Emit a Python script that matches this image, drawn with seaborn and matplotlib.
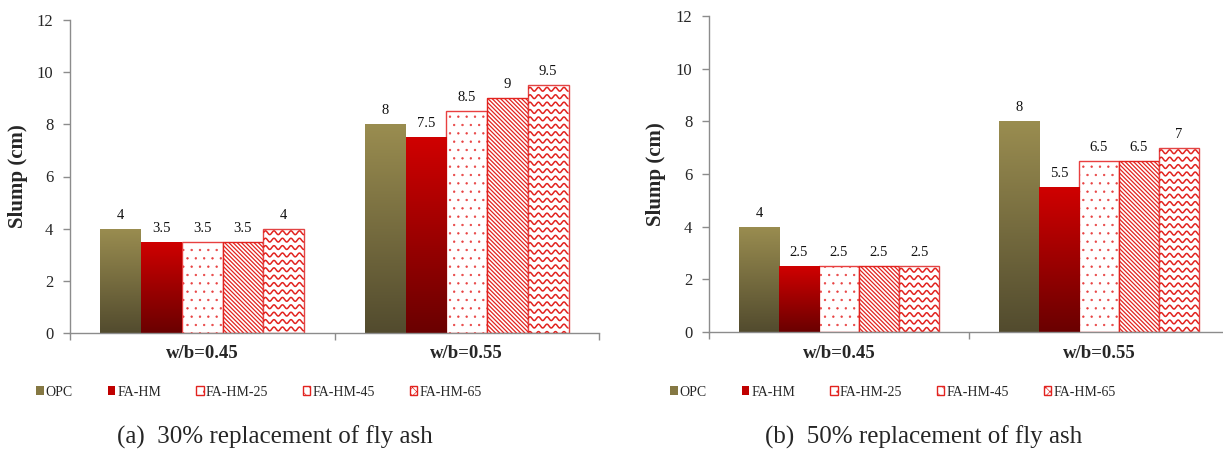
import numpy as np
import pandas as pd
import matplotlib
matplotlib.use("Agg")
import matplotlib.pyplot as plt
import seaborn as sns
from matplotlib.patches import Patch
from matplotlib.colors import LinearSegmentedColormap

# ---- data -------------------------------------------------------------
groups = ["w/b=0.45", "w/b=0.55"]
mixes = ["OPC", "FA-HM", "FA-HM-25", "FA-HM-45", "FA-HM-65"]

# slump (cm) per mix, 30 % fly ash replacement
slump30_wb045 = [4, 3.5, 3.5, 3.5, 4]
slump30_wb055 = [8, 7.5, 8.5, 9, 9.5]
# slump (cm) per mix, 50 % fly ash replacement
slump50_wb045 = [4, 2.5, 2.5, 2.5, 2.5]
slump50_wb055 = [8, 5.5, 6.5, 6.5, 7]

yticks = [0, 2, 4, 6, 8, 10, 12]
captions = ["(a)  30% replacement of fly ash", "(b)  50% replacement of fly ash"]


def to_frame(a, b):
    rows = []
    for g, vals in zip(groups, [a, b]):
        for m, v in zip(mixes, vals):
            rows.append({"group": g, "mix": m, "slump": v})
    return pd.DataFrame(rows)


# ---- style ------------------------------------------------------------
sns.set_style("white")
plt.rcParams["font.family"] = ["Liberation Serif", "DejaVu Serif"]
plt.rcParams["hatch.linewidth"] = 0.45

RED = "#e2231f"
DOT_RED = "#e84040"
WAVE_RED = "#e24444"
GREY = "#8c8c8c"
opc_cmap = LinearSegmentedColormap.from_list("opc", ["#524b2e", "#9a8d50"])
fahm_cmap = LinearSegmentedColormap.from_list("fahm", ["#6a0000", "#d00000"])
palette = {"OPC": "#8b7e45", "FA-HM": "#c00000", "FA-HM-25": "white",
           "FA-HM-45": "white", "FA-HM-65": "white"}


def pixel_units(ax):
    bb = ax.get_window_extent()
    x_lo, x_hi = ax.get_xlim()
    y_lo, y_hi = ax.get_ylim()
    return (x_hi - x_lo) / bb.width, (y_hi - y_lo) / bb.height


def gradient_bar(ax, bar, cmap):
    x0, w, h = bar.get_x(), bar.get_width(), bar.get_height()
    grad = np.linspace(0, 1, 256).reshape(-1, 1)
    im = ax.imshow(grad, extent=[x0, x0 + w, 0, h], origin="lower",
                   aspect="auto", cmap=cmap, zorder=bar.get_zorder())
    im.set_clip_path(bar)
    bar.set_facecolor("none")
    bar.set_edgecolor("none")


def diagonal_bar(ax, bar, color, step_px=4.2):
    # "\" hatch built from the bar's own geometry, spaced in pixels
    ux, uy = pixel_units(ax)
    x0, w, h = bar.get_x(), bar.get_width(), bar.get_height()
    w_px, h_px = w / ux, h / uy
    c = 0.0
    while c < w_px + h_px:
        px = np.array([c - h_px, c])
        py = np.array([h_px, 0.0])
        ln, = ax.plot(x0 + px * ux, py * uy, color=color, lw=0.9,
                      zorder=bar.get_zorder() + 0.1)
        ln.set_clip_path(bar)
        c += step_px


def wave_bar(ax, bar, color):
    # wavy hatch built from the bar's own geometry, sized in pixels
    ux, uy = pixel_units(ax)
    period, spacing, amp = 8.5 * ux, 7.4 * uy, 1.9 * uy
    x0, w, h = bar.get_x(), bar.get_width(), bar.get_height()
    xs = np.linspace(x0, x0 + w, 300)
    row = h - spacing * 0.55
    while row > -spacing:
        ys = row + amp * np.sin(2 * np.pi * (xs - x0) / period)
        ln, = ax.plot(xs, ys, color=color, lw=1.1, zorder=bar.get_zorder() + 0.1,
                      solid_capstyle="butt")
        ln.set_clip_path(bar)
        row -= spacing


def draw_panel(ax, df, ylabel_x):
    sns.barplot(data=df, x="group", y="slump", hue="mix", order=groups,
                hue_order=mixes, palette=palette, width=0.77, saturation=1,
                errorbar=None, legend=False, ax=ax)
    ax.set_xlim(-0.5, 1.5)
    ax.set_ylim(0, 12)

    for mix, cont in zip(mixes, ax.containers):
        for bar in cont:
            if mix == "OPC":
                gradient_bar(ax, bar, opc_cmap)
            elif mix == "FA-HM":
                gradient_bar(ax, bar, fahm_cmap)
            elif mix == "FA-HM-25":
                bar.set_facecolor("white")
                bar.set_edgecolor(DOT_RED)
                bar.set_hatch("..")
                bar.set_linewidth(1.0)
            elif mix == "FA-HM-45":
                bar.set_facecolor("white")
                bar.set_edgecolor(RED)
                bar.set_linewidth(1.0)
                diagonal_bar(ax, bar, RED)
            else:
                bar.set_facecolor("white")
                bar.set_edgecolor(WAVE_RED)
                bar.set_linewidth(1.0)
                wave_bar(ax, bar, RED)
        ax.bar_label(cont, labels=[f"{b.get_height():g}" for b in cont],
                     padding=5, fontsize=10.5, color="#111111")

    ax.set_xlim(-0.5, 1.5)
    ax.set_ylim(0, 12)

    # category labels centred, ticks at category boundaries
    ax.set_xticks([-0.5, 0.5, 1.5])
    ax.set_xticklabels([])
    ax.set_xticks([0, 1], minor=True)
    ax.set_xticklabels(groups, minor=True, fontweight="bold", fontsize=13.5)
    ax.tick_params(axis="x", which="minor", length=0, pad=9)
    ax.tick_params(axis="x", which="major", length=5, width=1, color=GREY,
                   direction="out", bottom=True)

    ax.set_yticks(yticks)
    ax.set_yticklabels([str(t) for t in yticks], fontsize=12)
    ax.tick_params(axis="y", length=5, width=1, color=GREY, direction="out",
                   left=True, pad=7)

    ax.set_xlabel("")
    ax.set_ylabel("Slump (cm)", fontsize=15, fontweight="bold")
    ax.yaxis.set_label_coords(ylabel_x, 0.5)

    for s in ["top", "right"]:
        ax.spines[s].set_visible(False)
    for s in ["left", "bottom"]:
        ax.spines[s].set_color(GREY)
        ax.spines[s].set_linewidth(1)


W, H = 1223, 457
fig = plt.figure(figsize=(W / 100, H / 100), dpi=100)

ax_a = fig.add_axes([70 / W, 1 - 333 / H, 529 / W, 313 / H])
ax_b = fig.add_axes([709 / W, 1 - 332 / H, 520 / W, 316 / H])

draw_panel(ax_a, to_frame(slump30_wb045, slump30_wb055), -0.080)
draw_panel(ax_b, to_frame(slump50_wb045, slump50_wb055), -0.083)

handles = [
    Patch(facecolor="#857843", edgecolor="none", label="OPC"),
    Patch(facecolor="#c00000", edgecolor="none", label="FA-HM"),
    Patch(facecolor="white", edgecolor=RED, hatch="..", label="FA-HM-25"),
    Patch(facecolor="white", edgecolor=RED, hatch="\\\\\\", label="FA-HM-45"),
    Patch(facecolor="white", edgecolor=RED, hatch="xxxx", label="FA-HM-65"),
]
for x_left, cap_x, cap in [(36 / W, 275 / W, captions[0]),
                           (670 / W, 924 / W, captions[1])]:
    fig.legend(handles=handles, loc="center left",
               bbox_to_anchor=(x_left, 1 - 392 / H), ncol=5, frameon=False,
               fontsize=10, handlelength=0.55, handleheight=0.55,
               handletextpad=0.15, columnspacing=2.5, borderpad=0,
               borderaxespad=0)
    fig.text(cap_x, 1 - 437 / H, cap, ha="center", va="center", fontsize=18)

fig.savefig("out.png", dpi=100)
